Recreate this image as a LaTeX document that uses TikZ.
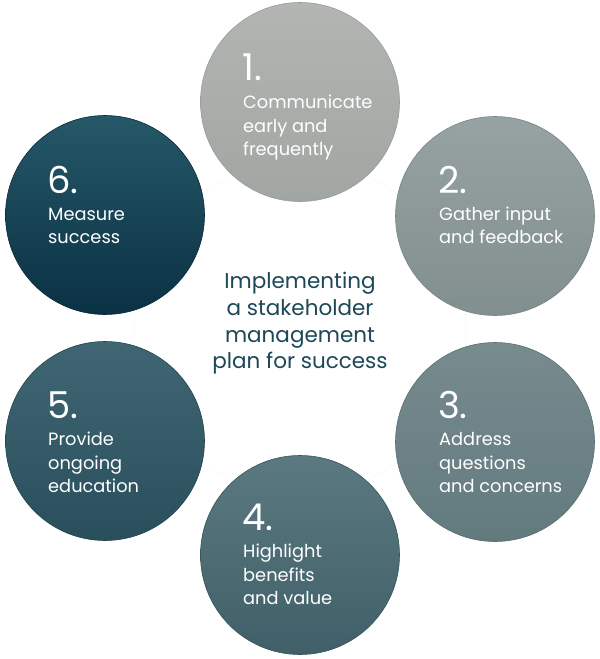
\documentclass[tikz,border=0pt]{standalone}
\usepackage{fontspec}
\setmainfont{Poppins}
\definecolor{titlecol}{HTML}{1D4858}
\definecolor{ringcol}{HTML}{E6E9E9}
\definecolor{c1t}{HTML}{B2B5B2}\definecolor{c1b}{HTML}{A2A6A3}\definecolor{c1d}{HTML}{989C99}
\definecolor{c2t}{HTML}{97A2A2}\definecolor{c2b}{HTML}{828F8F}\definecolor{c2d}{HTML}{788585}
\definecolor{c3t}{HTML}{788B8F}\definecolor{c3b}{HTML}{627A7E}\definecolor{c3d}{HTML}{576E72}
\definecolor{c4t}{HTML}{5A7980}\definecolor{c4b}{HTML}{415F68}\definecolor{c4d}{HTML}{37535B}
\definecolor{c5t}{HTML}{3F6672}\definecolor{c5b}{HTML}{284F5B}\definecolor{c5d}{HTML}{20444F}
\definecolor{c6t}{HTML}{255868}\definecolor{c6b}{HTML}{0A3144}\definecolor{c6d}{HTML}{07293A}
\begin{document}
\begin{tikzpicture}[x=1pt,y=-1pt,
  stepcircle/.style={circle,minimum size=199pt,inner sep=0pt,draw=#1d,top color=#1t,bottom color=#1b,line width=0.6pt},
  numtext/.style={anchor=base west,inner sep=0pt,text=white,font=\fontsize{37}{40}\selectfont},
  bodytext/.style={anchor=base west,inner sep=0pt,text=white,font=\fontsize{17.8}{23}\selectfont},
  titletext/.style={anchor=base,inner sep=0pt,text=titlecol,font=\fontsize{21.5}{26}\selectfont}]
\useasboundingbox (0,0) rectangle (600,659);
\fill[white] (0,0) rectangle (600,659);
\draw[ringcol,dotted,line width=0.6pt] (300,328) circle[radius=166];
% circles
\node[stepcircle=c1] (c1) at (300,102) {};
\node[stepcircle=c2] (c2) at (495,216) {};
\node[stepcircle=c3] (c3) at (495,442) {};
\node[stepcircle=c4] (c4) at (300,555) {};
\node[stepcircle=c5] (c5) at (105,441) {};
\node[stepcircle=c6] (c6) at (105,215) {};
% texts 1
\node[numtext] (n1) at (242,80) {1.};
\node[bodytext] (t1a) at (243,108) {Communicate};
\node[bodytext] (t1b) at (243,132) {early and};
\node[bodytext] (t1c) at (243,155) {frequently};
% 2
\node[numtext] (n2) at (438,193) {2.};
\node[bodytext] (t2a) at (439,220) {Gather input};
\node[bodytext] (t2b) at (439,243) {and feedback};
% 3
\node[numtext] (n3) at (438,418) {3.};
\node[bodytext] (t3a) at (439,445) {Address};
\node[bodytext] (t3b) at (439,469) {questions};
\node[bodytext] (t3c) at (439,492) {and concerns};
% 4
\node[numtext] (n4) at (242,530) {4.};
\node[bodytext] (t4a) at (243,557) {Highlight};
\node[bodytext] (t4b) at (243,581) {benefits};
\node[bodytext] (t4c) at (243,604) {and value};
% 5
\node[numtext] (n5) at (47,418) {5.};
\node[bodytext] (t5a) at (48,445) {Provide};
\node[bodytext] (t5b) at (48,469) {ongoing};
\node[bodytext] (t5c) at (48,492) {education};
% 6
\node[numtext] (n6) at (47,193) {6.};
\node[bodytext] (t6a) at (48,220) {Measure};
\node[bodytext] (t6b) at (48,243) {success};
% title
\node[titletext] (h1) at (300,288) {Implementing};
\node[titletext] (h2) at (300,315) {a stakeholder};
\node[titletext] (h3) at (300,342) {management};
\node[titletext] (h4) at (300,368) {plan for success};
\end{tikzpicture}
\end{document}
